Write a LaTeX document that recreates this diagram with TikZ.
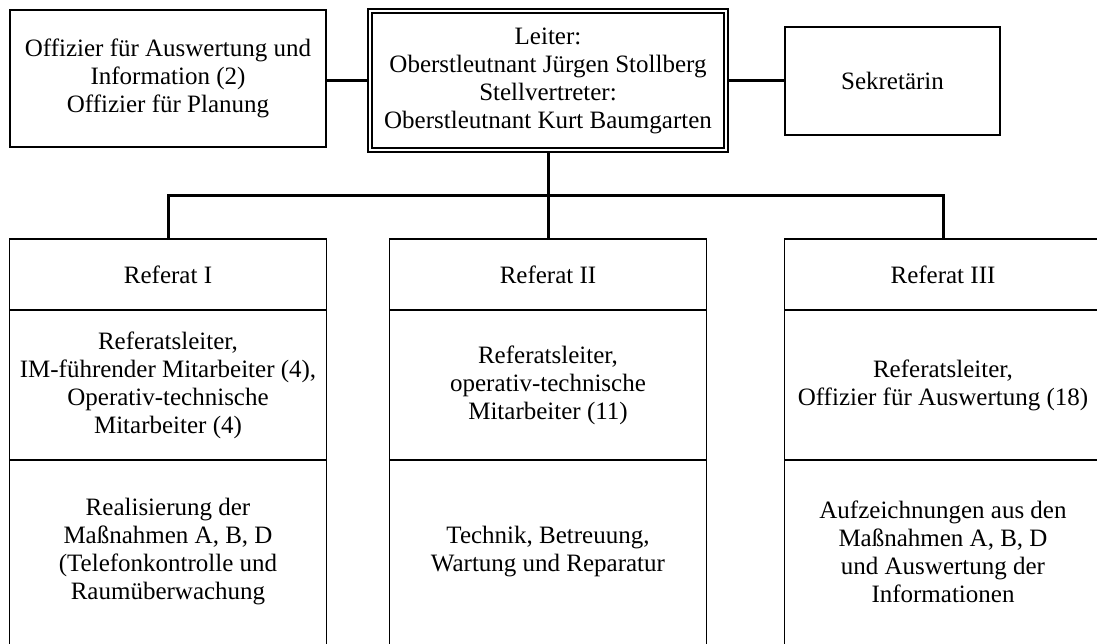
\documentclass[tikz,border=0pt]{standalone}
\usepackage{fontspec}
\setmainfont{Liberation Serif}
\begin{document}
\begin{tikzpicture}[x=1pt,y=-1pt,
  box/.style={draw, line width=1.5pt, rectangle, inner sep=0pt, align=center,
    font=\fontsize{25}{28}\selectfont},
  chief/.style={box, double, double distance=2pt, line width=2.2pt, outer sep=3.2pt},
  cell/.style={box, minimum width=317pt, outer sep=0pt},
  head/.style={cell, minimum height=71pt},
  info/.style={cell, minimum height=150pt},
  task/.style={cell, draw=none, minimum height=184pt},
  side/.style={line width=1.5pt},
  link/.style={line width=3pt},
]
\useasboundingbox (0,0) rectangle (1097,644);
\clip (0,0) rectangle (1097,644);

% staff level
\node[box, minimum width=316pt, minimum height=137pt] (stab) at (168,78.5)
  {Offizier für Auswertung und\\Information (2)\\Offizier für Planung};
\node[chief, minimum width=355.6pt, minimum height=138.6pt] (leiter) at (548,80.5)
  {Leiter:\\Oberstleutnant Jürgen Stollberg\\Stellvertreter:\\Oberstleutnant Kurt Baumgarten};
\node[box, minimum width=215pt, minimum height=108pt] (sekr) at (892.5,81) {Sekretärin};

% sections: heading, staff, tasks
\node[head] (ref1) at (168,274.5) {Referat I};
\node[head] (ref2) at (548,274.5) {Referat II};
\node[head] (ref3) at (943,274.5) {Referat III};

\node[info] (inf1) at (168,385)
  {Referatsleiter,\\IM-führender Mitarbeiter (4),\\Operativ-technische\\Mitarbeiter (4)};
\node[info] (inf2) at (548,385)
  {Referatsleiter,\\operativ-technische\\Mitarbeiter (11)};
\node[info] (inf3) at (943,385)
  {Referatsleiter,\\Offizier für Auswertung (18)};

\node[task] (auf1) at (168,552)
  {Realisierung der\\Maßnahmen A, B, D\\(Telefonkontrolle und\\Raumüberwachung};
\node[task] (auf2) at (548,552)
  {Technik, Betreuung,\\Wartung und Reparatur};
\node[task] (auf3) at (943,552)
  {Aufzeichnungen aus den\\Maßnahmen A, B, D\\und Auswertung der\\Informationen};

% open-ended lower cells
\foreach \c in {auf1,auf2,auf3}{
  \draw[side] (\c.north west) -- ++(0,200);
  \draw[side] (\c.north east) -- ++(0,200);
}

% connectors
\draw[link] (leiter.west) -- (leiter.west -| stab.east);
\draw[link] (leiter.east) -- (leiter.east -| sekr.west);
\coordinate (fork) at (548,196);
\draw[link] (leiter.south) -- (fork);
\draw[link] (ref1.north) |- (fork) -| (ref3.north);
\draw[link] (fork) -- (ref2.north);
\end{tikzpicture}
\end{document}
